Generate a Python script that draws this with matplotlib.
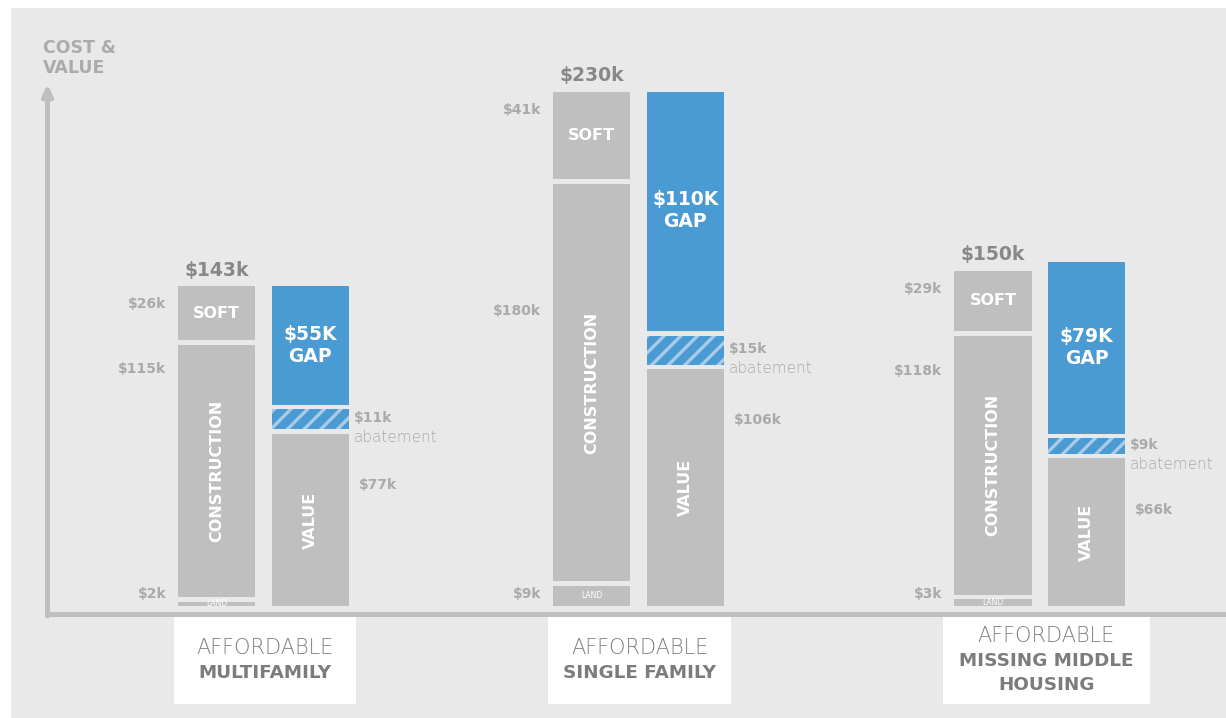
import matplotlib
matplotlib.use("Agg")
import matplotlib.pyplot as plt
from matplotlib.patches import Rectangle

# ---------------- data ----------------
categories = ["MULTIFAMILY", "SINGLE FAMILY", "MISSING MIDDLE\nHOUSING"]
category_prefix = "AFFORDABLE"
land = [2, 9, 3]
construction = [115, 180, 118]
soft = [26, 41, 29]
totals = [143, 230, 150]
value = [77, 106, 66]
abatement = [11, 15, 9]
gap = [55, 110, 79]

# ---------------- layout / style ----------------
W, H = 1226, 718
PX_PER_K = 2.235
Y0_PX = 606                      # pixel row of y=0
UNIT_PX = 375                    # pixels per category unit
X0_PX = 263.5                    # pixel column of category 0
group_pos = [0, 1, 2.07]
bar_off = 46.75 / UNIT_PX
bar_w = 77 / UNIT_PX
gap_k = 4.5 / PX_PER_K           # white separation between segments
con_label_drop = [11, 57, 16]
box_w_px = [182, 183, 207]
box_shift_px = [1.5, 1.25, 6.5]

BG = "#e9e9e9"
GREY = "#bfbfbf"
BLUE = "#4a9ad4"
STRIPE = "#a9cbe7"
LBL = "#aaaaaa"
TOT = "#888888"
CAT = "#7c7c7c"
FONT = "DejaVu Sans"

plt.rcParams["font.family"] = [FONT]
plt.rcParams["hatch.linewidth"] = 2.4

fig = plt.figure(figsize=(W / 100, H / 100), dpi=100, facecolor="white")
fig.patches.append(Rectangle((11 / W, 0), 1 - 11 / W, (H - 8) / H,
                             transform=fig.transFigure, facecolor=BG,
                             edgecolor="none", zorder=-10))
ymax = max(totals)
ax = fig.add_axes([0, (H - Y0_PX) / H, 1, ymax * PX_PER_K / H])
ax.set_xlim(-X0_PX / UNIT_PX, (W - X0_PX) / UNIT_PX)
ax.set_ylim(0, ymax)
ax.axis("off")
ax.patch.set_alpha(0)


def k_of_px(dpx):
    return dpx / PX_PER_K


def x_of_px(dpx):
    return dpx / UNIT_PX


# axes lines
ax_x = x_of_px(47.5 - X0_PX)
ax_y = -k_of_px(614 - Y0_PX)
ax.plot([ax_x - x_of_px(2.5), ax.get_xlim()[1]], [ax_y, ax_y], color=GREY,
        lw=3.6, solid_capstyle="butt", clip_on=False)
ax.annotate("", xy=(ax_x, k_of_px(Y0_PX - 84)), xytext=(ax_x, ax_y - k_of_px(2)),
            arrowprops=dict(arrowstyle="-|>,head_width=0.3,head_length=0.65",
                            lw=3.6, color=GREY, shrinkA=0, shrinkB=0),
            annotation_clip=False)
ax.text(x_of_px(43 - X0_PX), k_of_px(Y0_PX - 58), "COST &\nVALUE",
        ha="left", va="center", fontsize=12.5, fontweight="bold", color="#ababab",
        linespacing=1.12)

for i, g in enumerate(group_pos):
    xc = g - bar_off
    xv = g + bar_off
    # cost bar
    l, c, s = land[i], construction[i], soft[i]
    ax.bar(xc, l, bottom=0, width=bar_w, color=GREY, lw=0)
    ax.bar(xc, c - gap_k, bottom=l + gap_k, width=bar_w, color=GREY, lw=0)
    ax.bar(xc, s - gap_k, bottom=l + c + gap_k, width=bar_w, color=GREY, lw=0)
    ax.text(xc, l / 2, "LAND", ha="center", va="center", fontsize=5.5,
            color="white")
    ax.text(xc, l + gap_k + (c - gap_k) / 2, "CONSTRUCTION", rotation=90,
            ha="center", va="center", fontsize=11.5, fontweight="bold", color="white")
    ax.text(xc, l + c + gap_k + (s - gap_k) / 2, "SOFT", ha="center", va="center",
            fontsize=11.5, fontweight="bold", color="white")
    ax.text(xc, totals[i] + k_of_px(16), f"${totals[i]}k", ha="center", va="center",
            fontsize=13.5, fontweight="bold", color=TOT)
    lx = xc - bar_w / 2 - x_of_px(12)
    ax.text(lx, totals[i] - 8, f"${s}k", ha="right", va="center",
            fontsize=10, fontweight="bold", color=LBL)
    ax.text(lx, l + c - con_label_drop[i], f"${c}k", ha="right", va="center",
            fontsize=10, fontweight="bold", color=LBL)
    ax.text(lx, 5.4, f"${l}k", ha="right", va="center",
            fontsize=10, fontweight="bold", color=LBL)

    # value bar
    v, a, gp = value[i], abatement[i], gap[i]
    ax.bar(xv, v, bottom=0, width=bar_w, color=GREY, lw=0)
    ax.bar(xv, a - gap_k, bottom=v + gap_k, width=bar_w, color=BLUE,
           edgecolor=STRIPE, lw=0, hatch="//")
    ax.bar(xv, gp - gap_k, bottom=v + a + gap_k, width=bar_w, color=BLUE, lw=0)
    ax.text(xv, v / 2, "VALUE", rotation=90, ha="center", va="center",
            fontsize=11.5, fontweight="bold", color="white")
    ax.text(xv, v + a + gap_k + (gp - gap_k) / 2, f"${gp}K\nGAP", ha="center",
            va="center", fontsize=13.5, fontweight="bold", color="white",
            linespacing=1.22)
    rx = xv + bar_w / 2 + x_of_px(5)
    amid = v + gap_k + (a - gap_k) / 2
    ax.text(rx, amid + 0.5, f"${a}k", ha="left", va="center", fontsize=10,
            fontweight="bold", color=LBL)
    ax.text(rx, amid - k_of_px(18), "abatement", ha="left", va="center",
            fontsize=11, fontweight="light", color=LBL)
    ax.text(xv + bar_w / 2 + x_of_px(10), v - 23, f"${v}k", ha="left", va="center",
            fontsize=10, fontweight="bold", color=LBL)

    # category box
    bw = x_of_px(box_w_px[i])
    bc = g + x_of_px(box_shift_px[i])
    btop = -k_of_px(617 - Y0_PX)
    bbot = -k_of_px(704 - Y0_PX)
    ax.add_patch(Rectangle((bc - bw / 2, bbot), bw, btop - bbot, facecolor="white",
                           edgecolor="none", clip_on=False))
    lines = [category_prefix] + categories[i].split("\n")
    n = len(lines)
    ymid = (btop + bbot) / 2
    for j, t in enumerate(lines):
        yy = ymid - (j - (n - 1) / 2) * k_of_px(24.5)
        if j == 0:
            ax.text(bc, yy, t, ha="center", va="center", fontsize=15,
                    fontweight="light", color="#808080")
        else:
            ax.text(bc, yy, t, ha="center", va="center", fontsize=13.2,
                    fontweight="bold", color=CAT)

fig.savefig("out.png", dpi=100, facecolor="white")
